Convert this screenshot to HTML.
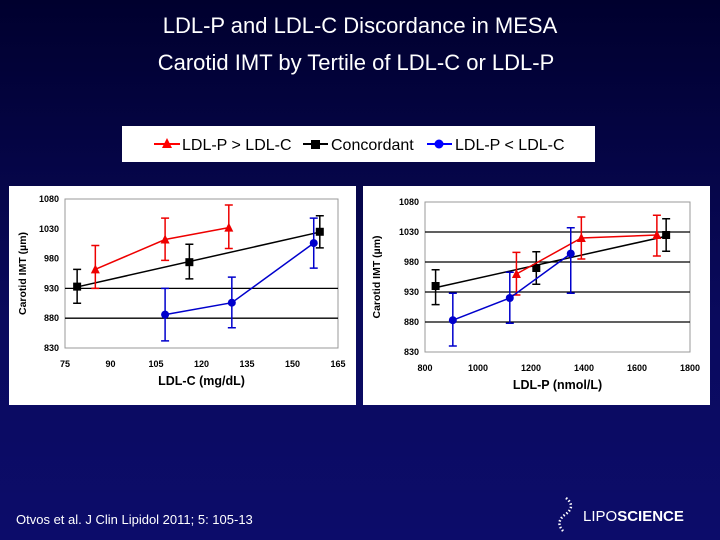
<!DOCTYPE html>
<html><head><meta charset="utf-8">
<style>
html,body{margin:0;padding:0;width:720px;height:540px;overflow:hidden;}
body{background:linear-gradient(#00002e,#0a0a5e 60%,#0c0c6a);font-family:"Liberation Sans",sans-serif;}
svg text{font-family:"Liberation Sans",sans-serif;}
</style></head>
<body>
<svg id="s" width="720" height="540" viewBox="0 0 720 540" xmlns="http://www.w3.org/2000/svg">
<text x="360" y="33" fill="#fff" font-size="22" text-anchor="middle">LDL-P and LDL-C Discordance in MESA</text>
<text x="356" y="70" fill="#fff" font-size="22" text-anchor="middle">Carotid IMT by Tertile of LDL-C or LDL-P</text>
<g>
<rect x="122" y="126" width="473" height="36" fill="#fff"/>
<g>
<line x1="154" y1="144" x2="180" y2="144" stroke="#f00" stroke-width="2"/>
<polygon points="167,138 172,148 162,148" fill="#f00"/>
<text x="182" y="150" font-size="16" fill="#000">LDL-P &gt; LDL-C</text></g>
<g>
<line x1="303" y1="144" x2="328" y2="144" stroke="#000" stroke-width="2"/>
<rect x="311" y="140" width="9" height="9" fill="#000"/>
<text x="331" y="150" font-size="16" fill="#000">Concordant</text></g>
<g>
<line x1="427" y1="144" x2="452" y2="144" stroke="#00f" stroke-width="2"/>
<circle cx="439" cy="144" r="4.5" fill="#00f"/>
<text x="455" y="150" font-size="16" fill="#000">LDL-P &lt; LDL-C</text></g>
</g>
<g id="c1"></g>
<g id="c2"></g>
<text x="16" y="524" fill="#fff" font-size="13">Otvos et al. J Clin Lipidol 2011; 5: 105-13</text>
<g>
<path d="M566 498 q10 8 0 16 q-12 8 -2 18" stroke="#fff" stroke-width="2.5" stroke-dasharray="1.5 2" fill="none"/>
<text x="583" y="521" fill="#fff" font-size="15">LIPO<tspan font-weight="bold">SCIENCE</tspan></text>
</g>
</svg>
<script>
const yTicks=[830,880,930,980,1030,1080];
const c1XTicks=[75,90,105,120,135,150,165];
const c1RedX=[85,108,129], c1RedY=[962,1012,1032], c1RedLo=[930,977,997], c1RedHi=[1002,1048,1070];
const c1BlkX=[79,116,159], c1BlkY=[933,974,1025], c1BlkLo=[905,946,998], c1BlkHi=[962,1004,1052];
const c1BluX=[108,130,157], c1BluY=[886,906,1006], c1BluLo=[842,864,964], c1BluHi=[930,949,1048];
const c2XTicks=[800,1000,1200,1400,1600,1800];
const c2RedX=[1145,1390,1675], c2RedY=[960,1020,1025], c2RedLo=[925,985,990], c2RedHi=[996,1055,1058];
const c2BlkX=[840,1220,1710], c2BlkY=[940,970,1025], c2BlkLo=[909,943,998], c2BlkHi=[967,997,1052];
const c2BluX=[905,1120,1350], c2BluY=[883,920,994], c2BluLo=[840,878,928], c2BluHi=[928,963,1037];

const NS="http://www.w3.org/2000/svg";
function mk(p,t,a){const e=document.createElementNS(NS,t);for(const k in a)e.setAttribute(k,a[k]);p.appendChild(e);return e;}
function chart(g,cfg){
  const x=v=>cfg.x0+(v-cfg.xmin)/(cfg.xmax-cfg.xmin)*(cfg.x1-cfg.x0);
  const y=v=>cfg.y0-(v-830)/250*(cfg.y0-cfg.y1);
  const bg=mk(g,'rect',{x:cfg.px,y:cfg.py,width:cfg.pw,height:cfg.ph,fill:'#fff'});
  
  
  mk(g,'rect',{x:cfg.x0,y:cfg.y1,width:cfg.x1-cfg.x0,height:cfg.y0-cfg.y1,fill:'none',stroke:'#999','stroke-width':1});
  yTicks.forEach(t=>{
    if(cfg.grid.includes(t)){const l=mk(g,'line',{x1:cfg.x0,x2:cfg.x1,y1:y(t),y2:y(t),stroke:'#000','stroke-width':1.3});
      
      }
    const tx=mk(g,'text',{x:cfg.x0-6,y:y(t)+3,'font-size':9,'font-weight':'bold','text-anchor':'end'});tx.textContent=t;
    
    
  });
  cfg.xt.forEach(t=>{const tx=mk(g,'text',{x:x(t),y:cfg.y0+19,'font-size':9,'font-weight':'bold','text-anchor':'middle'});tx.textContent=t;
    
    });
  const xl=mk(g,'text',{x:(cfg.x0+cfg.x1)/2,y:cfg.y0+37,'font-size':12.5,'font-weight':'bold','text-anchor':'middle'});xl.textContent=cfg.xlabel;
  
  
  const yl=mk(g,'text',{x:0,y:0,'font-size':10.5,'font-weight':'bold','text-anchor':'middle',transform:`translate(${cfg.px+17},${(cfg.y0+cfg.y1)/2}) rotate(-90)`});yl.textContent=cfg.ylabel;
  
  
  const series=[
    {X:cfg.blk[0],Y:cfg.blk[1],L:cfg.blk[2],H:cfg.blk[3],c:'#000',m:'sq',n:'concordant',trend:true},
    {X:cfg.red[0],Y:cfg.red[1],L:cfg.red[2],H:cfg.red[3],c:'#e00',m:'tri',n:'ldlp-gt-ldlc'},
    {X:cfg.blu[0],Y:cfg.blu[1],L:cfg.blu[2],H:cfg.blu[3],c:'#00c',m:'ci',n:'ldlp-lt-ldlc'}];
  series.forEach(s=>{
    let pts;
    if(s.trend){const n=s.X.length;let mx=0,my=0;for(let i=0;i<n;i++){mx+=s.X[i]/n;my+=s.Y[i]/n;}
      let a=0,b=0;for(let i=0;i<n;i++){a+=(s.X[i]-mx)*(s.Y[i]-my);b+=(s.X[i]-mx)**2;}const k=a/b;
      pts=[[x(s.X[0]),y(my+k*(s.X[0]-mx))],[x(s.X[n-1]),y(my+k*(s.X[n-1]-mx))]].map(p=>p.join(',')).join(' ');}
    else pts=s.X.map((v,i)=>x(v)+','+y(s.Y[i])).join(' ');
    const pl=mk(g,'polyline',{points:pts,fill:'none',stroke:s.c,'stroke-width':1.5});
    
    
    s.X.forEach((v,i)=>{
      const cx=x(v),cy=y(s.Y[i]);
      const eb=mk(g,'path',{d:`M${cx},${y(s.L[i])}V${y(s.H[i])}M${cx-4},${y(s.L[i])}h8M${cx-4},${y(s.H[i])}h8`,stroke:s.c,'stroke-width':1.5,fill:'none'});
      
      
      let m;
      if(s.m==='sq')m=mk(g,'rect',{x:cx-4,y:cy-4,width:8,height:8,fill:s.c});
      else if(s.m==='tri')m=mk(g,'polygon',{points:`${cx},${cy-5} ${cx+4.5},${cy+4} ${cx-4.5},${cy+4}`,fill:s.c});
      else m=mk(g,'circle',{cx:cx,cy:cy,r:4,fill:s.c});
      
      
    });
  });
}
chart(document.getElementById('c1'),{px:9,py:186,pw:347,ph:219,x0:65,x1:338,y0:348,y1:199,xmin:75,xmax:165,xt:c1XTicks,grid:[930,880],
  xlabel:'LDL-C (mg/dL)',ylabel:'Carotid IMT (µm)',red:[c1RedX,c1RedY,c1RedLo,c1RedHi],blk:[c1BlkX,c1BlkY,c1BlkLo,c1BlkHi],blu:[c1BluX,c1BluY,c1BluLo,c1BluHi]});
chart(document.getElementById('c2'),{px:363,py:186,pw:347,ph:219,x0:425,x1:690,y0:352,y1:202,xmin:800,xmax:1800,xt:c2XTicks,grid:[1030,980,930,880],
  xlabel:'LDL-P (nmol/L)',ylabel:'Carotid IMT (µm)',red:[c2RedX,c2RedY,c2RedLo,c2RedHi],blk:[c2BlkX,c2BlkY,c2BlkLo,c2BlkHi],blu:[c2BluX,c2BluY,c2BluLo,c2BluHi]});
</script>
</body></html>
